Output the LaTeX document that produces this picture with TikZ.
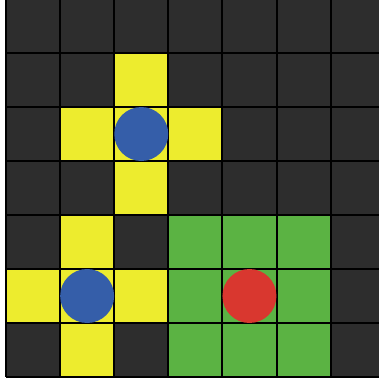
\documentclass[tikz,border=0pt]{standalone}
\definecolor{cdark}{HTML}{2D2D2D}
\definecolor{cyel}{HTML}{EDEC2E}
\definecolor{cblue}{HTML}{355EA9}
\definecolor{cred}{HTML}{D9372F}
\definecolor{cgreen}{HTML}{5BB343}
\tikzset{
  gridline/.style={draw=black, line width=2pt},
  token/.style={circle, minimum size=54pt, inner sep=0pt, draw=none}
}
\begin{document}
\begin{tikzpicture}[x=1pt,y=-1pt]
\useasboundingbox (0,0) rectangle (379,383);
\fill[white] (0,0) rectangle (379,383);
\begin{scope}
\clip (0,0) rectangle (379,383);
\def\s{54.1}
% dark background
\fill[cdark] (6,-1) rectangle ({6+7*\s},{-1+7*54});
% yellow cells
\foreach \c/\r in {2/1, 1/2, 2/2, 3/2, 2/3, 1/4, 0/5, 1/5, 2/5, 1/6}
  \fill[cyel] ({6+\c*\s},{-1+\r*54}) rectangle ({6+(\c+1)*\s},{-1+(\r+1)*54});
% green cells
\foreach \c in {3,4,5} \foreach \r in {4,5,6}
  \fill[cgreen] ({6+\c*\s},{-1+\r*54}) rectangle ({6+(\c+1)*\s},{-1+(\r+1)*54});
% grid lines
\foreach \i in {0,...,7} {
  \draw[gridline] ({6+\i*\s},-1) -- ({6+\i*\s},{-1+7*54});
  \draw[gridline] (6,{-1+\i*54}) -- ({6+7*\s},{-1+\i*54});
}
% tokens
\node[token, fill=cblue] (b1) at ({6+2.5*\s},{-1+2.5*54}) {};
\node[token, fill=cblue] (b2) at ({6+1.5*\s},{-1+5.5*54}) {};
\node[token, fill=cred] (r1) at ({6+4.5*\s},{-1+5.5*54}) {};
\end{scope}
\end{tikzpicture}
\end{document}
